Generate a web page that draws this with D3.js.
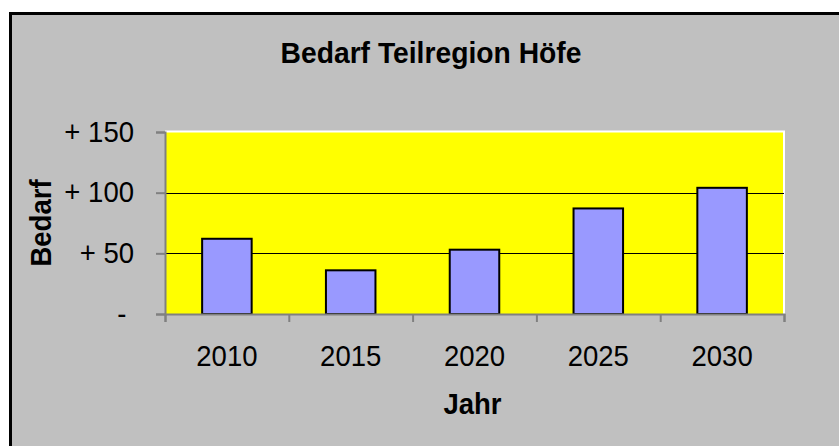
<!DOCTYPE html>
<html>
<head>
<meta charset="utf-8">
<script src="https://cdn.jsdelivr.net/npm/d3@7"></script>
<style>
  html, body { margin: 0; background: #fff; overflow: hidden; }
  svg { display: block; font-family: Arial, "Liberation Sans", sans-serif; }
</style>
</head>
<body>
<div id="chart"></div>
<script>
// Daten
const jahre = ["2010", "2015", "2020", "2025", "2030"];
const bedarf = [62, 36, 53, 87, 104];
const yTicks = [0, 50, 100, 150];

const W = 839, H = 446;
const plot = { left: 165, right: 784, top: 132, bottom: 314 };
const FS = 29;      // Schriftgröße
const SX = 0.95;    // Schrift etwas schmaler, wie im Original

const svg = d3.select("#chart").append("svg")
    .attr("width", W)
    .attr("height", H);

// Rahmen des Diagramms (läuft rechts/unten über den Rand hinaus)
svg.append("rect")
    .attr("x", 10.5).attr("y", 13.5)
    .attr("width", 1000).attr("height", 1000)
    .attr("fill", "#c0c0c0")
    .attr("stroke", "#000")
    .attr("stroke-width", 3);

// Skalen
const x = d3.scaleBand().domain(jahre).range([plot.left, plot.right]).padding(0);
const y = d3.scaleLinear().domain([0, 150]).range([plot.bottom, plot.top]);

// Zeichenfläche
svg.append("rect")
    .attr("x", plot.left).attr("y", plot.top)
    .attr("width", plot.right - plot.left)
    .attr("height", plot.bottom - plot.top)
    .attr("fill", "#ffff00");

// weißer Rand oben und rechts
svg.append("path")
    .attr("d", `M${plot.left},${plot.top - 0.5} H${plot.right} V${plot.bottom}`)
    .attr("fill", "none")
    .attr("stroke", "#fff")
    .attr("stroke-width", 2);

// Gitterlinien
svg.append("g")
    .selectAll("line")
    .data(yTicks.filter(d => d > 0 && d < 150))
    .join("line")
    .attr("x1", plot.left).attr("x2", plot.right)
    .attr("y1", d => Math.round(y(d)) + 0.5)
    .attr("y2", d => Math.round(y(d)) + 0.5)
    .attr("stroke", "#000")
    .attr("stroke-width", 1);

// Balken
svg.append("g")
    .selectAll("rect")
    .data(jahre)
    .join("rect")
    .attr("x", d => x(d) + x.bandwidth() * 0.3)
    .attr("width", x.bandwidth() * 0.4)
    .attr("y", (d, i) => y(bedarf[i]))
    .attr("height", (d, i) => y(0) - y(bedarf[i]))
    .attr("fill", "#9999ff")
    .attr("stroke", "#000")
    .attr("stroke-width", 2);

// Y-Achse
const yAxis = svg.append("g")
    .attr("transform", `translate(${plot.left},0)`)
    .call(d3.axisLeft(y)
        .tickValues(yTicks)
        .tickSize(9)
        .tickPadding(23.6)
        .tickFormat(d => d === 0 ? "-\u00a0" : "+ " + d));
yAxis.select(".domain").attr("stroke", "#808080").attr("stroke-width", 2);
yAxis.selectAll(".tick line").attr("stroke", "#808080").attr("stroke-width", 2);
yAxis.selectAll(".tick text")
    .attr("fill", "#000")
    .attr("font-size", FS)
    .attr("font-family", "Arial, 'Liberation Sans', sans-serif")
    .attr("transform", `scale(${SX},1)`);

// X-Achse: Striche an den Kategoriegrenzen
const xb = d3.scaleLinear().domain([0, jahre.length]).range([plot.left, plot.right]);
const xAxis = svg.append("g")
    .attr("transform", `translate(0,${plot.bottom})`)
    .call(d3.axisBottom(xb)
        .tickValues(d3.range(jahre.length + 1))
        .tickSize(8)
        .tickFormat(""));
xAxis.select(".domain").attr("stroke", "#808080").attr("stroke-width", 2);
xAxis.selectAll(".tick line").attr("stroke", "#808080").attr("stroke-width", 2);

// X-Beschriftungen
const xLabels = svg.append("g")
    .attr("transform", `translate(0,${plot.bottom})`)
    .call(d3.axisBottom(x).tickSize(0).tickPadding(31));
xLabels.select(".domain").remove();
xLabels.selectAll(".tick text")
    .attr("fill", "#000")
    .attr("font-size", FS)
    .attr("font-family", "Arial, 'Liberation Sans', sans-serif")
    .attr("transform", `scale(${SX},1)`);

// Titel
svg.append("text")
    .attr("transform", "translate(431,63) scale(0.975,1)")
    .attr("text-anchor", "middle")
    .attr("font-size", FS)
    .attr("font-weight", "bold")
    .text("Bedarf Teilregion Höfe");

// Achsentitel
svg.append("text")
    .attr("transform", `translate(50.5,223) rotate(-90) scale(${SX},1)`)
    .attr("text-anchor", "middle")
    .attr("font-size", FS)
    .attr("font-weight", "bold")
    .text("Bedarf");

svg.append("text")
    .attr("transform", `translate(472.5,414) scale(${SX},1)`)
    .attr("text-anchor", "middle")
    .attr("font-size", FS)
    .attr("font-weight", "bold")
    .text("Jahr");
</script>
</body>
</html>
